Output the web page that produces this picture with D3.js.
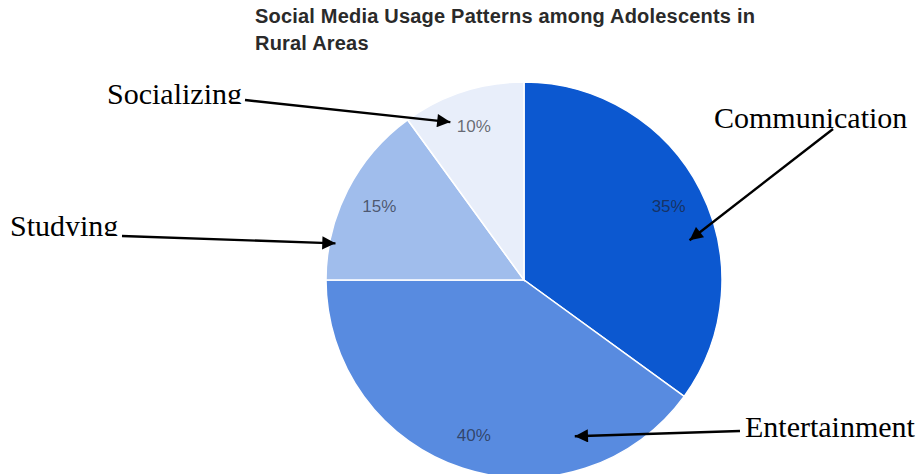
<!DOCTYPE html>
<html>
<head>
<meta charset="utf-8">
<script src="https://cdn.jsdelivr.net/npm/d3@7"></script>
<style>
    body { margin: 0; background: #fff; }
    svg { display: block; }
</style>
</head>
<body>
<div id="chart"></div>
<script>

// chart data
var categories = ['Communication', 'Entertainment', 'Studying', 'Socializing'];
var shares = [35, 40, 15, 10];
var sliceColors = ['#0c58d0', '#588be0', '#a0bdec', '#e8eefa'];
var titleLines = ['Social Media Usage Patterns among Adolescents in', 'Rural Areas'];

// callouts: where the label sits and where its arrow points (angle in degrees, radius as share of pie radius)
var calloutLabels = ['Communication', 'Entertainment', 'Studying', 'Socializing'];
var calloutText = [[714, 128], [745, 437], [10, 236], [107, 104]];
var calloutStart = [[833, 129], [740, 431], [122, 236], [245, 100]];
var calloutTip = [[76.5, 0.86], [162, 0.83], [281, 0.97], [335, 0.88]];
var calloutClipped = [false, false, true, true];

var width = 918;
var height = 474;
var cx = 524;
var cy = 280;
var radius = 198;

var svg = d3.select('#chart').append('svg')
    .attr('width', width)
    .attr('height', height);

// title
svg.append('g')
    .selectAll('text')
    .data(titleLines).enter()
    .append('text')
    .attr('x', 255)
    .attr('y', function(d, i) { return 23 + i * 27; })
    .attr('font-family', 'Liberation Sans, Arial, sans-serif')
    .attr('font-size', 20)
    .attr('font-weight', 'bold')
    .attr('letter-spacing', 0.2)
    .attr('fill', '#2a2a2a')
    .text(function(d) { return d; });

var pie = d3.pie().sort(null).value(function(d) { return d; });
var arcs = pie(shares);
var arc = d3.arc().innerRadius(0).outerRadius(radius);
var labelArc = d3.arc().innerRadius(radius * 0.82).outerRadius(radius * 0.82);

var pieG = svg.append('g')
    .attr('transform', 'translate(' + cx + ',' + cy + ')');

pieG.selectAll('path')
    .data(arcs).enter()
    .append('path')
    .attr('d', arc)
    .attr('fill', function(d, i) { return sliceColors[i]; })
    .attr('stroke', '#fff')
    .attr('stroke-width', 1.5);

pieG.selectAll('.pct')
    .data(arcs).enter()
    .append('text')
    .attr('class', 'pct')
    .attr('transform', function(d) { return 'translate(' + labelArc.centroid(d) + ')'; })
    .attr('text-anchor', 'middle')
    .attr('dy', '0.36em')
    .attr('font-family', 'Liberation Sans, Arial, sans-serif')
    .attr('font-size', 17)
    .attr('fill', '#1c1c28')
    .attr('fill-opacity', 0.65)
    .text(function(d) { return d.data + '%'; });

// arrow marker
svg.append('defs').append('marker')
    .attr('id', 'arrowhead')
    .attr('viewBox', '0 0 10 10')
    .attr('refX', 10)
    .attr('refY', 5)
    .attr('markerWidth', 6.5)
    .attr('markerHeight', 5.5)
    .attr('markerUnits', 'strokeWidth')
    .attr('orient', 'auto')
    .append('path')
    .attr('d', 'M0,0L10,5L0,10Z')
    .attr('fill', '#000');

var defs = svg.select('defs');

calloutLabels.forEach(function(name, i) {
    var ang = calloutTip[i][0] * Math.PI / 180;
    var r = calloutTip[i][1] * radius;
    var tipX = cx + r * Math.sin(ang);
    var tipY = cy - r * Math.cos(ang);

    svg.append('line')
        .attr('x1', calloutStart[i][0])
        .attr('y1', calloutStart[i][1])
        .attr('x2', tipX)
        .attr('y2', tipY)
        .attr('stroke', '#000')
        .attr('stroke-width', 2.4)
        .attr('marker-end', 'url(#arrowhead)');

    var label = svg.append('text')
        .attr('x', calloutText[i][0])
        .attr('y', calloutText[i][1])
        .attr('font-family', 'Liberation Serif, Times New Roman, serif')
        .attr('font-size', 30)
        .attr('fill', '#000')
        .text(name);

    // the two left labels are cut off just under the baseline
    if (calloutClipped[i]) {
        defs.append('clipPath')
            .attr('id', 'clip' + i)
            .append('rect')
            .attr('x', 0)
            .attr('y', 0)
            .attr('width', width)
            .attr('height', calloutText[i][1]);
        label.attr('clip-path', 'url(#clip' + i + ')');
    }
});

</script>
</body>
</html>
